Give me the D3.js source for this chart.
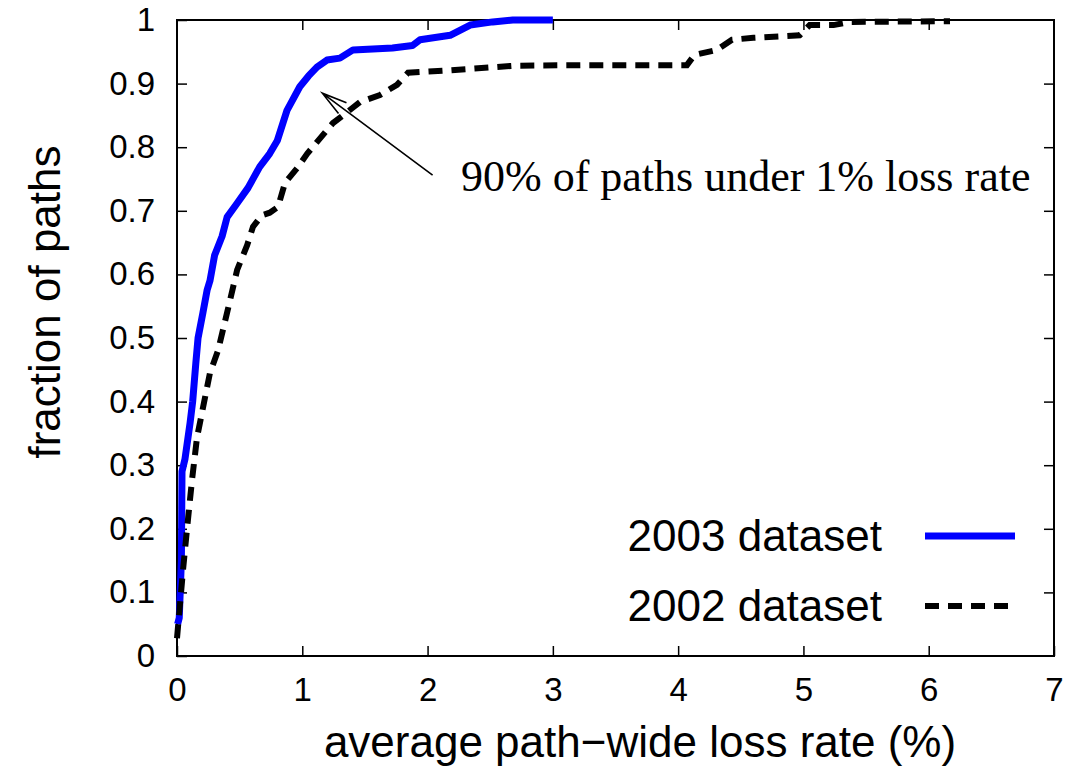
<!DOCTYPE html>
<meta charset="utf-8">
<title>Loss rate CDF</title>
<style>
  body { margin: 0; background: #fff; }
  text { font-family: "Liberation Sans", Arial, sans-serif; fill: #000; }
</style>
<body>
<script src="https://d3js.org/d3.v7.min.js"></script>
<script>

// values
var lossRate2003 = [0.005, 0.018, 0.035, 0.04, 0.064, 0.104, 0.125, 0.15, 0.168, 0.207, 0.24, 0.263, 0.30, 0.32, 0.36, 0.40, 0.48, 0.567, 0.66, 0.74, 0.80, 0.878, 0.98, 1.05, 1.117, 1.197, 1.30, 1.405, 1.72, 1.88, 1.94, 2.18, 2.34, 2.52, 2.68, 3.0];
var frac2003     = [0.05, 0.06, 0.15, 0.29, 0.31, 0.366, 0.40, 0.46, 0.50, 0.54, 0.575, 0.59, 0.63, 0.64, 0.66, 0.69, 0.712, 0.736, 0.769, 0.79, 0.81, 0.858, 0.895, 0.912, 0.926, 0.937, 0.94, 0.953, 0.956, 0.96, 0.969, 0.976, 0.992, 0.997, 1.0, 1.0];

var lossRate2002 = [0.0, 0.048, 0.08, 0.12, 0.16, 0.207, 0.263, 0.327, 0.40, 0.48, 0.56, 0.607, 0.678, 0.74, 0.806, 0.862, 0.958, 1.04, 1.125, 1.245, 1.357, 1.46, 1.62, 1.756, 1.844, 2.18, 2.68, 3.22, 4.07, 4.13, 4.31, 4.43, 4.6, 4.97, 5.05, 5.24, 5.37, 6.17];
var frac2002     = [0.028, 0.135, 0.20, 0.277, 0.344, 0.39, 0.445, 0.48, 0.54, 0.607, 0.646, 0.675, 0.693, 0.697, 0.706, 0.744, 0.767, 0.79, 0.81, 0.838, 0.855, 0.871, 0.882, 0.898, 0.917, 0.921, 0.928, 0.929, 0.929, 0.945, 0.953, 0.969, 0.972, 0.976, 0.992, 0.992, 0.997, 0.998];

var xTickValues = [0, 1, 2, 3, 4, 5, 6, 7];
var yTickValues = [0, 0.1, 0.2, 0.3, 0.4, 0.5, 0.6, 0.7, 0.8, 0.9, 1];

var seriesNames = ["2003 dataset", "2002 dataset"];
var noteText = "90% of paths under 1% loss rate";
var arrowFrom = [2.04, 0.756], arrowTo = [1.16, 0.885];

var svgW = 1068, svgH = 766,
    plotL = 177, plotR = 1054, plotT = 20, plotB = 656;

var x = d3.scaleLinear().domain([0, 7]).range([plotL, plotR]);
var y = d3.scaleLinear().domain([0, 1]).range([plotB, plotT]);

var svg = d3.select("body").append("svg")
  .attr("width", svgW)
  .attr("height", svgH);

// axes, ticks pointing inward, mirrored on top and right
var fmt = d3.format("~g");

svg.append("g")
  .attr("transform", "translate(0," + plotB + ")")
  .call(d3.axisBottom(x).tickValues(xTickValues).tickSizeInner(-10).tickSizeOuter(0).tickPadding(22).tickFormat(fmt))
  .call(g => g.select(".domain").remove())
  .call(g => g.selectAll("text").attr("font-size", 33).attr("font-family", "Liberation Sans, Arial, sans-serif"));

svg.append("g")
  .attr("transform", "translate(0," + plotT + ")")
  .call(d3.axisTop(x).tickValues(xTickValues.slice(1, -1)).tickSizeInner(-10).tickSizeOuter(0).tickFormat(""))
  .call(g => g.select(".domain").remove());

svg.append("g")
  .attr("transform", "translate(" + plotL + ",0)")
  .call(d3.axisLeft(y).tickValues(yTickValues).tickSizeInner(-10).tickSizeOuter(0).tickPadding(22).tickFormat(fmt))
  .call(g => g.select(".domain").remove())
  .call(g => g.selectAll("text").attr("font-size", 33).attr("font-family", "Liberation Sans, Arial, sans-serif"));

svg.append("g")
  .attr("transform", "translate(" + plotR + ",0)")
  .call(d3.axisRight(y).tickValues(yTickValues.slice(1, -1)).tickSizeInner(-10).tickSizeOuter(0).tickFormat(""))
  .call(g => g.select(".domain").remove());

svg.selectAll(".tick line").attr("stroke", "#000").attr("stroke-width", 1.5);

// frame
svg.append("rect")
  .attr("x", plotL).attr("y", plotT)
  .attr("width", plotR - plotL).attr("height", plotB - plotT)
  .attr("fill", "none").attr("stroke", "#000").attr("stroke-width", 2);

// curves
var line = d3.line().x(d => x(d[0])).y(d => y(d[1]));

var data2003 = lossRate2003.map((v, i) => [v, frac2003[i]]);
var data2002 = lossRate2002.map((v, i) => [v, frac2002[i]]);

svg.append("path")
  .datum(data2003)
  .attr("d", line)
  .attr("fill", "none")
  .attr("stroke", "#0000ff")
  .attr("stroke-width", 7)
  .attr("stroke-linejoin", "round");

svg.append("path")
  .datum(data2002)
  .attr("d", line)
  .attr("fill", "none")
  .attr("stroke", "#000")
  .attr("stroke-width", 6)
  .attr("stroke-dasharray", "14,9");

// annotation arrow
var ax0 = x(arrowFrom[0]), ay0 = y(arrowFrom[1]),
    ax1 = x(arrowTo[0]), ay1 = y(arrowTo[1]);
var ang = Math.atan2(ay0 - ay1, ax0 - ax1), headLen = 26, spread = 0.26;

svg.append("path")
  .attr("d", "M" + ax0 + "," + ay0 + "L" + ax1 + "," + ay1 +
    "M" + (ax1 + headLen * Math.cos(ang - spread)) + "," + (ay1 + headLen * Math.sin(ang - spread)) +
    "L" + ax1 + "," + ay1 +
    "L" + (ax1 + headLen * Math.cos(ang + spread)) + "," + (ay1 + headLen * Math.sin(ang + spread)))
  .attr("fill", "none")
  .attr("stroke", "#000")
  .attr("stroke-width", 1.6);

svg.append("text")
  .attr("x", 461).attr("y", 191)
  .style("font-family", "'Liberation Serif', 'Times New Roman', serif")
  .attr("font-size", 44)
  .text(noteText);

// legend
var legend = svg.append("g");
var legendRows = [
  {name: seriesNames[0], color: "#0000ff", width: 7, dash: null, y: 536},
  {name: seriesNames[1], color: "#000", width: 6, dash: "14,9", y: 606}
];
legendRows.forEach(function (r) {
  legend.append("text")
    .attr("x", 882).attr("y", r.y + 15)
    .attr("text-anchor", "end")
    .attr("font-size", 44)
    .text(r.name);
  legend.append("line")
    .attr("x1", 925).attr("x2", 1015)
    .attr("y1", r.y).attr("y2", r.y)
    .attr("stroke", r.color)
    .attr("stroke-width", r.width)
    .attr("stroke-dasharray", r.dash);
});

// axis titles
svg.append("text")
  .attr("x", 640).attr("y", 757)
  .attr("text-anchor", "middle")
  .attr("font-size", 44)
  .text("average path\u2212wide loss rate (%)");

svg.append("text")
  .attr("transform", "translate(60,302) rotate(-90)")
  .attr("text-anchor", "middle")
  .attr("font-size", 44)
  .text("fraction of paths");

</script>
</body>
</html>
